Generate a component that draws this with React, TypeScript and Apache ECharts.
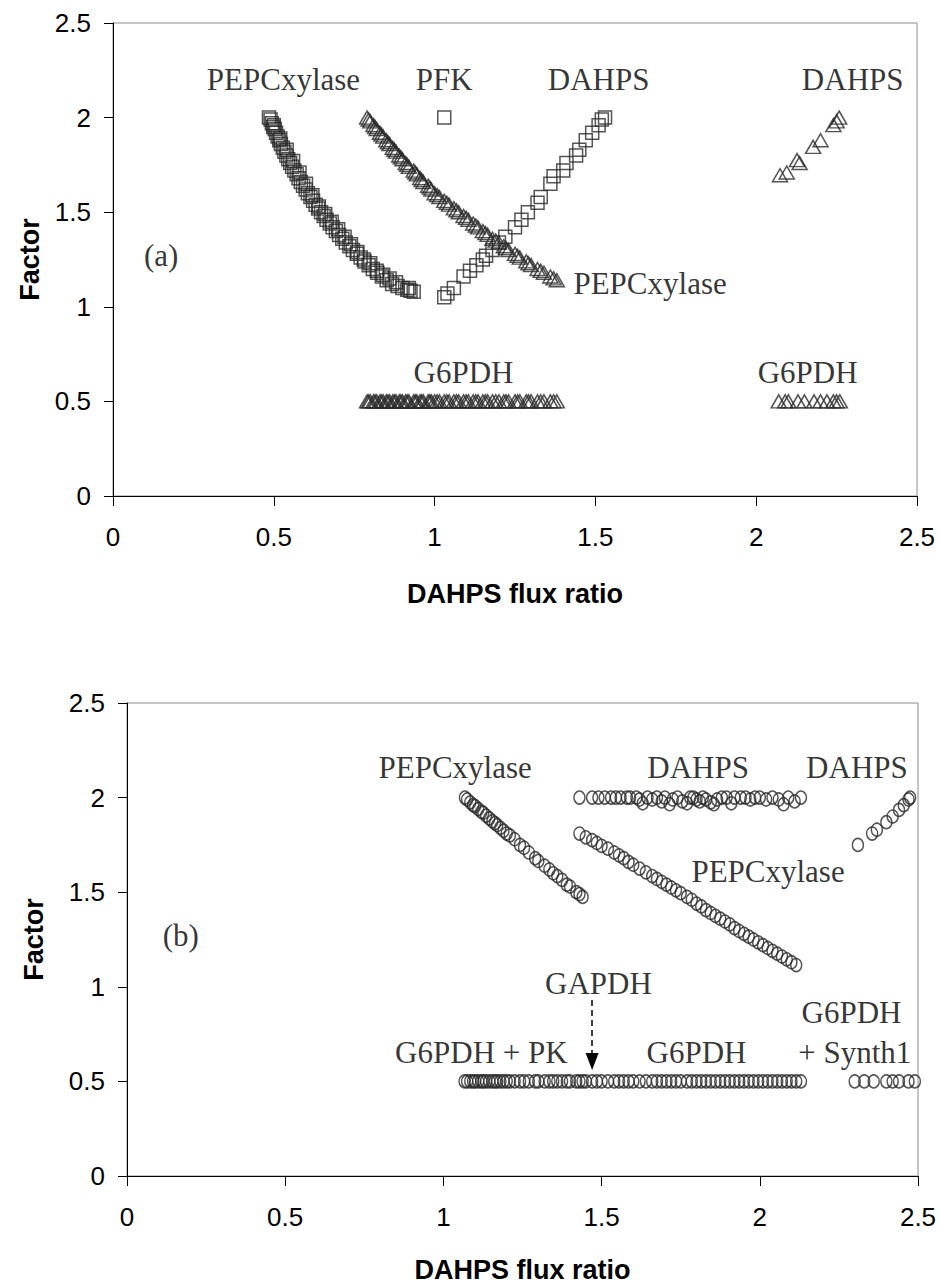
import React, { useEffect, useRef } from "react";
import * as echarts from "echarts";

// ---------- axis setup ----------
const axisMin = 0;
const axisMax = 2.5;
const axisStep = 0.5;
const xTitle = "DAHPS flux ratio";
const yTitle = "Factor";

// ---------- panel (a) ----------
// PEPCxylase (squares)
const aPepcSquares: number[][] = [
  [0.485, 2.0], [0.49, 1.99], [0.494, 1.97], [0.498, 1.95], [0.503, 1.94], [0.507, 1.92],
  [0.512, 1.9], [0.517, 1.88], [0.522, 1.86], [0.528, 1.84], [0.533, 1.82], [0.539, 1.8],
  [0.545, 1.78], [0.551, 1.76], [0.557, 1.74], [0.564, 1.72], [0.571, 1.7], [0.577, 1.68],
  [0.584, 1.66], [0.591, 1.64], [0.599, 1.62], [0.606, 1.6], [0.614, 1.58], [0.622, 1.56],
  [0.63, 1.54], [0.638, 1.52], [0.647, 1.5], [0.655, 1.48], [0.664, 1.46], [0.674, 1.44],
  [0.683, 1.42], [0.693, 1.4], [0.703, 1.38], [0.713, 1.36], [0.724, 1.34], [0.735, 1.32],
  [0.746, 1.3], [0.758, 1.28], [0.77, 1.26], [0.782, 1.24], [0.795, 1.22], [0.808, 1.2],
  [0.822, 1.18], [0.836, 1.16], [0.851, 1.14], [0.868, 1.12], [0.885, 1.11], [0.9, 1.1],
  [0.915, 1.09], [0.925, 1.085], [0.935, 1.08],
  [0.5, 1.96], [0.52, 1.89], [0.54, 1.83], [0.56, 1.77], [0.58, 1.71], [0.6, 1.65],
  [0.62, 1.59], [0.64, 1.53], [0.66, 1.49], [0.68, 1.45], [0.7, 1.41], [0.72, 1.37],
  [0.74, 1.33], [0.76, 1.29], [0.78, 1.25], [0.8, 1.23], [0.82, 1.19], [0.84, 1.17],
  [0.86, 1.15], [0.88, 1.13], [0.92, 1.1],
];
// PFK (square)
const aPfk: number[][] = [[1.03, 2.0]];
// DAHPS (squares, rising)
const aDahpsSquares: number[][] = [
  [1.03, 1.05], [1.04, 1.07], [1.06, 1.1], [1.09, 1.16], [1.11, 1.19], [1.13, 1.22],
  [1.15, 1.25], [1.16, 1.27], [1.18, 1.3], [1.2, 1.34], [1.22, 1.37], [1.25, 1.42],
  [1.27, 1.46], [1.29, 1.5], [1.32, 1.55], [1.33, 1.58], [1.36, 1.65], [1.37, 1.69],
  [1.4, 1.72], [1.41, 1.76], [1.44, 1.8], [1.45, 1.83], [1.47, 1.88], [1.49, 1.92],
  [1.51, 1.96], [1.52, 1.99], [1.53, 2.0],
];
// PEPCxylase (triangles)
const aPepcTriangles: number[][] = [
  [0.79, 2.0], [0.8, 1.98], [0.81, 1.96], [0.82, 1.94], [0.83, 1.92], [0.84, 1.9],
  [0.85, 1.88], [0.86, 1.86], [0.87, 1.84], [0.88, 1.82], [0.89, 1.8], [0.9, 1.78],
  [0.91, 1.76], [0.92, 1.74], [0.935, 1.72], [0.945, 1.7], [0.955, 1.68], [0.965, 1.66],
  [0.98, 1.64], [0.99, 1.62], [1.0, 1.6], [1.015, 1.58], [1.03, 1.56], [1.045, 1.54],
  [1.06, 1.52], [1.075, 1.5], [1.09, 1.48], [1.105, 1.46], [1.12, 1.44], [1.135, 1.42],
  [1.15, 1.4], [1.165, 1.38], [1.18, 1.36], [1.2, 1.34], [1.215, 1.32], [1.23, 1.3],
  [1.25, 1.28], [1.265, 1.26], [1.285, 1.24], [1.3, 1.22], [1.32, 1.2], [1.34, 1.18],
  [1.36, 1.16], [1.38, 1.14],
  [0.795, 1.99], [0.815, 1.95], [0.835, 1.91], [0.855, 1.87], [0.875, 1.83], [0.895, 1.79],
  [0.915, 1.75], [0.94, 1.71], [0.96, 1.67], [0.985, 1.63], [1.008, 1.59], [1.038, 1.55],
  [1.068, 1.51], [1.098, 1.47], [1.128, 1.43], [1.158, 1.39], [1.19, 1.35], [1.222, 1.31],
  [1.258, 1.27], [1.292, 1.23], [1.33, 1.19], [1.37, 1.15],
];
// DAHPS (triangles, right)
const aDahpsTriangles: number[][] = [
  [2.074, 1.695], [2.095, 1.71], [2.127, 1.775], [2.135, 1.76], [2.177, 1.845],
  [2.2, 1.88], [2.24, 1.96], [2.25, 1.98], [2.258, 2.0],
];
// G6PDH (triangles at 0.5)
const aG6pdhLeft: number[][] = [
  [0.79, 0.5], [0.795, 0.5], [0.8, 0.5], [0.81, 0.5], [0.815, 0.5], [0.82, 0.5], [0.83, 0.5],
  [0.835, 0.5], [0.84, 0.5], [0.85, 0.5], [0.855, 0.5], [0.86, 0.5], [0.87, 0.5], [0.875, 0.5],
  [0.88, 0.5], [0.89, 0.5], [0.895, 0.5], [0.9, 0.5], [0.91, 0.5], [0.915, 0.5], [0.92, 0.5],
  [0.935, 0.5], [0.94, 0.5], [0.945, 0.5], [0.955, 0.5], [0.96, 0.5], [0.965, 0.5], [0.98, 0.5],
  [0.985, 0.5], [0.99, 0.5], [1.0, 0.5], [1.008, 0.5], [1.015, 0.5], [1.03, 0.5], [1.038, 0.5],
  [1.045, 0.5], [1.06, 0.5], [1.068, 0.5], [1.075, 0.5], [1.09, 0.5], [1.098, 0.5], [1.105, 0.5],
  [1.12, 0.5], [1.128, 0.5], [1.135, 0.5], [1.15, 0.5], [1.158, 0.5], [1.165, 0.5], [1.18, 0.5],
  [1.19, 0.5], [1.2, 0.5], [1.215, 0.5], [1.222, 0.5], [1.23, 0.5], [1.25, 0.5], [1.258, 0.5],
  [1.265, 0.5], [1.285, 0.5], [1.292, 0.5], [1.3, 0.5], [1.32, 0.5], [1.33, 0.5], [1.34, 0.5],
  [1.36, 0.5], [1.37, 0.5], [1.38, 0.5],
];
const aG6pdhRight: number[][] = [
  [2.07, 0.5], [2.09, 0.5], [2.1, 0.5], [2.13, 0.5], [2.15, 0.5], [2.18, 0.5],
  [2.2, 0.5], [2.22, 0.5], [2.24, 0.5], [2.25, 0.5], [2.26, 0.5],
];
const aLabels = [
  { text: "PEPCxylase", x: 0.53, y: 2.2 },
  { text: "PFK", x: 1.03, y: 2.2 },
  { text: "DAHPS", x: 1.51, y: 2.2 },
  { text: "DAHPS", x: 2.3, y: 2.2 },
  { text: "(a)", x: 0.15, y: 1.27 },
  { text: "PEPCxylase", x: 1.67, y: 1.125 },
  { text: "G6PDH", x: 1.09, y: 0.655 },
  { text: "G6PDH", x: 2.16, y: 0.655 },
];

// ---------- panel (b) ----------
const bPepc1: number[][] = [
  [1.068, 2.0], [1.075, 1.99], [1.085, 1.975], [1.094, 1.96], [1.1, 1.955], [1.11, 1.94],
  [1.12, 1.925], [1.126, 1.92], [1.135, 1.905], [1.145, 1.89], [1.155, 1.875], [1.163, 1.865],
  [1.17, 1.855], [1.18, 1.84], [1.19, 1.825], [1.2, 1.81], [1.21, 1.8], [1.225, 1.78],
  [1.242, 1.75], [1.255, 1.735], [1.27, 1.71], [1.29, 1.68], [1.3, 1.665], [1.32, 1.64],
  [1.335, 1.62], [1.347, 1.6], [1.36, 1.585], [1.375, 1.565], [1.39, 1.54], [1.4, 1.53],
  [1.42, 1.5], [1.43, 1.49], [1.44, 1.475],
];
const bPepc2: number[][] = [
  [1.43, 1.81], [1.45, 1.79], [1.47, 1.775], [1.485, 1.76], [1.5, 1.745], [1.52, 1.73],
  [1.54, 1.71], [1.555, 1.695], [1.57, 1.68], [1.585, 1.66], [1.6, 1.645], [1.62, 1.625],
  [1.64, 1.605], [1.66, 1.585], [1.675, 1.57], [1.69, 1.555], [1.705, 1.54], [1.72, 1.525],
  [1.735, 1.51], [1.75, 1.495], [1.77, 1.475], [1.785, 1.46], [1.8, 1.44], [1.815, 1.425],
  [1.83, 1.405], [1.845, 1.39], [1.86, 1.375], [1.875, 1.36], [1.89, 1.345], [1.905, 1.33],
  [1.92, 1.31], [1.935, 1.295], [1.95, 1.28], [1.965, 1.265], [1.98, 1.25], [1.995, 1.235],
  [2.01, 1.22], [2.025, 1.205], [2.04, 1.19], [2.055, 1.175], [2.07, 1.16], [2.085, 1.145],
  [2.1, 1.13], [2.115, 1.115],
];
const bDahpsTop: number[][] = [
  [1.43, 2.0], [1.47, 2.0], [1.49, 2.0], [1.51, 2.0], [1.53, 2.0], [1.545, 2.0], [1.56, 2.0],
  [1.58, 2.0], [1.59, 2.0], [1.61, 2.0], [1.62, 1.99], [1.63, 1.97], [1.645, 2.0], [1.66, 1.99],
  [1.675, 2.0], [1.69, 1.98], [1.7, 2.0], [1.715, 1.965], [1.725, 1.99], [1.74, 2.0],
  [1.755, 1.98], [1.77, 1.97], [1.78, 2.0], [1.79, 2.0], [1.8, 1.99], [1.81, 1.98], [1.82, 2.0],
  [1.83, 1.99], [1.845, 1.975], [1.855, 1.965], [1.865, 1.99], [1.88, 2.0], [1.895, 2.0],
  [1.91, 1.97], [1.92, 2.0], [1.94, 2.0], [1.955, 2.0], [1.97, 1.99], [1.985, 2.0], [2.0, 2.0],
  [2.02, 1.99], [2.04, 2.0], [2.06, 1.99], [2.075, 1.965], [2.09, 2.0], [2.11, 1.98], [2.13, 2.0],
];
const bDahpsRight: number[][] = [
  [2.31, 1.75], [2.355, 1.81], [2.37, 1.83], [2.4, 1.87], [2.42, 1.9], [2.44, 1.935],
  [2.455, 1.96], [2.47, 1.99], [2.475, 2.0],
];
const bG6pdh: number[][] = [
  [1.067, 0.5], [1.075, 0.5], [1.085, 0.5], [1.094, 0.5], [1.1, 0.5], [1.11, 0.5], [1.12, 0.5],
  [1.126, 0.5], [1.135, 0.5], [1.145, 0.5], [1.155, 0.5], [1.163, 0.5], [1.17, 0.5], [1.18, 0.5],
  [1.19, 0.5], [1.2, 0.5], [1.21, 0.5], [1.225, 0.5], [1.242, 0.5], [1.255, 0.5], [1.27, 0.5],
  [1.29, 0.5], [1.3, 0.5], [1.32, 0.5], [1.335, 0.5], [1.347, 0.5], [1.36, 0.5], [1.375, 0.5],
  [1.39, 0.5], [1.4, 0.5], [1.42, 0.5], [1.43, 0.5], [1.44, 0.5], [1.45, 0.5], [1.47, 0.5],
  [1.485, 0.5], [1.5, 0.5], [1.52, 0.5], [1.54, 0.5], [1.555, 0.5], [1.57, 0.5], [1.585, 0.5],
  [1.6, 0.5], [1.62, 0.5], [1.64, 0.5], [1.66, 0.5], [1.675, 0.5], [1.69, 0.5], [1.705, 0.5],
  [1.72, 0.5], [1.735, 0.5], [1.75, 0.5], [1.77, 0.5], [1.785, 0.5], [1.8, 0.5], [1.815, 0.5],
  [1.83, 0.5], [1.845, 0.5], [1.86, 0.5], [1.875, 0.5], [1.89, 0.5], [1.905, 0.5], [1.92, 0.5],
  [1.935, 0.5], [1.95, 0.5], [1.965, 0.5], [1.98, 0.5], [1.995, 0.5], [2.01, 0.5], [2.025, 0.5],
  [2.04, 0.5], [2.055, 0.5], [2.07, 0.5], [2.085, 0.5], [2.1, 0.5], [2.115, 0.5], [2.13, 0.5],
];
const bG6pdhRight: number[][] = [
  [2.3, 0.5], [2.33, 0.5], [2.36, 0.5], [2.4, 0.5], [2.42, 0.5], [2.44, 0.5], [2.47, 0.5], [2.49, 0.5],
];
const bLabels = [
  { text: "PEPCxylase", x: 1.037, y: 2.157 },
  { text: "DAHPS", x: 1.805, y: 2.16 },
  { text: "DAHPS", x: 2.307, y: 2.16 },
  { text: "PEPCxylase", x: 2.026, y: 1.607 },
  { text: "(b)", x: 0.17, y: 1.27 },
  { text: "GAPDH", x: 1.49, y: 1.02 },
  { text: "G6PDH + PK", x: 1.12, y: 0.655 },
  { text: "G6PDH", x: 1.8, y: 0.655 },
  { text: "G6PDH", x: 2.29, y: 0.862 },
  { text: "+ Synth1", x: 2.3, y: 0.655 },
];
// GAPDH arrow (start, end) in data coordinates
const bArrow: number[][] = [
  [1.47, 0.93],
  [1.47, 0.605],
];

const MARK = "#2b2b2b";
const SANS = "'Liberation Sans', Arial, sans-serif";
const SERIF = "'Liberation Serif', 'Times New Roman', serif";

function xAxisCfg(gridIndex: number, nameGap: number) {
  return {
    gridIndex,
    type: "value",
    min: axisMin,
    max: axisMax,
    interval: axisStep,
    name: xTitle,
    nameLocation: "middle",
    nameGap,
    nameTextStyle: { fontFamily: SANS, fontWeight: "bold", fontSize: 27, color: "#000" },
    axisLine: { show: true, onZero: false, lineStyle: { color: "#000", width: 1 } },
    axisTick: { show: true, inside: false, length: 10, lineStyle: { color: "#000" } },
    axisLabel: { fontFamily: SANS, fontSize: 26, color: "#000", margin: 28 },
    splitLine: { show: false },
  };
}
function yAxisCfg(gridIndex: number, nameGap: number) {
  return {
    gridIndex,
    type: "value",
    min: axisMin,
    max: axisMax,
    interval: axisStep,
    name: yTitle,
    nameLocation: "middle",
    nameGap,
    nameTextStyle: { fontFamily: SANS, fontWeight: "bold", fontSize: 27, color: "#000" },
    axisLine: { show: true, onZero: false, lineStyle: { color: "#000", width: 1 } },
    axisTick: { show: true, inside: false, length: 9, lineStyle: { color: "#000" } },
    axisLabel: { fontFamily: SANS, fontSize: 26, color: "#000", margin: 22 },
    splitLine: { show: false },
  };
}

function markSeries(data: number[][], symbol: string, size: any, idx: number) {
  return {
    type: "scatter",
    xAxisIndex: idx,
    yAxisIndex: idx,
    data,
    symbol,
    symbolSize: size,
    silent: true,
    itemStyle: { color: "rgba(0,0,0,0)", borderColor: MARK, borderWidth: 1.5 },
    emphasis: { disabled: true },
  };
}

function labelSeries(labels: { text: string; x: number; y: number }[], idx: number, extra: any = {}) {
  return {
    type: "scatter",
    xAxisIndex: idx,
    yAxisIndex: idx,
    symbolSize: 1,
    silent: true,
    itemStyle: { color: "rgba(0,0,0,0)" },
    data: labels.map((l) => ({ name: l.text, value: [l.x, l.y] })),
    label: {
      show: true,
      position: "inside",
      formatter: "{b}",
      fontFamily: SERIF,
      fontSize: 31,
      color: "#000",
    },
    emphasis: { disabled: true },
    ...extra,
  };
}

export default function App() {
  const ref = useRef<HTMLDivElement>(null);
  useEffect(() => {
    document.body.style.margin = "0";
    if (!ref.current) return;
    const chart = echarts.init(ref.current, undefined, { renderer: "svg" });
    const gridStyle = { show: true, borderColor: "#8c8c8c", borderWidth: 1, containLabel: false };
    chart.setOption({
      animation: false,
      backgroundColor: "#fff",
      grid: [
        { left: 113, top: 23, width: 804, height: 473, ...gridStyle },
        { left: 127, top: 703, width: 791, height: 473, ...gridStyle },
      ],
      xAxis: [xAxisCfg(0, 84), xAxisCfg(1, 80)],
      yAxis: [yAxisCfg(0, 66), yAxisCfg(1, 80)],
      series: [
        markSeries(aPepcSquares, "rect", 13, 0),
        markSeries(aPfk, "rect", 13, 0),
        markSeries(aDahpsSquares, "rect", 13, 0),
        markSeries(aPepcTriangles, "triangle", [15, 13], 0),
        markSeries(aDahpsTriangles, "triangle", [15, 13], 0),
        markSeries(aG6pdhLeft, "triangle", [15, 13], 0),
        markSeries(aG6pdhRight, "triangle", [15, 13], 0),
        labelSeries(aLabels, 0),
        markSeries(bPepc1, "circle", [11, 13], 1),
        markSeries(bPepc2, "circle", [11, 13], 1),
        markSeries(bDahpsTop, "circle", [11, 13], 1),
        markSeries(bDahpsRight, "circle", [11, 13], 1),
        markSeries(bG6pdh, "circle", [11, 13], 1),
        markSeries(bG6pdhRight, "circle", [11, 13], 1),
        labelSeries(bLabels, 1, {
          markLine: {
            silent: true,
            symbol: ["none", "triangle"],
            symbolSize: [13, 17],
            label: { show: false },
            lineStyle: { type: [6, 4], color: "#000", width: 1.5 },
            emphasis: { disabled: true },
            data: [[{ coord: bArrow[0] }, { coord: bArrow[1] }]],
          },
        }),
      ],
    });
    return () => chart.dispose();
  }, []);
  return <div ref={ref} style={{ width: 940, height: 1287 }} />;
}
